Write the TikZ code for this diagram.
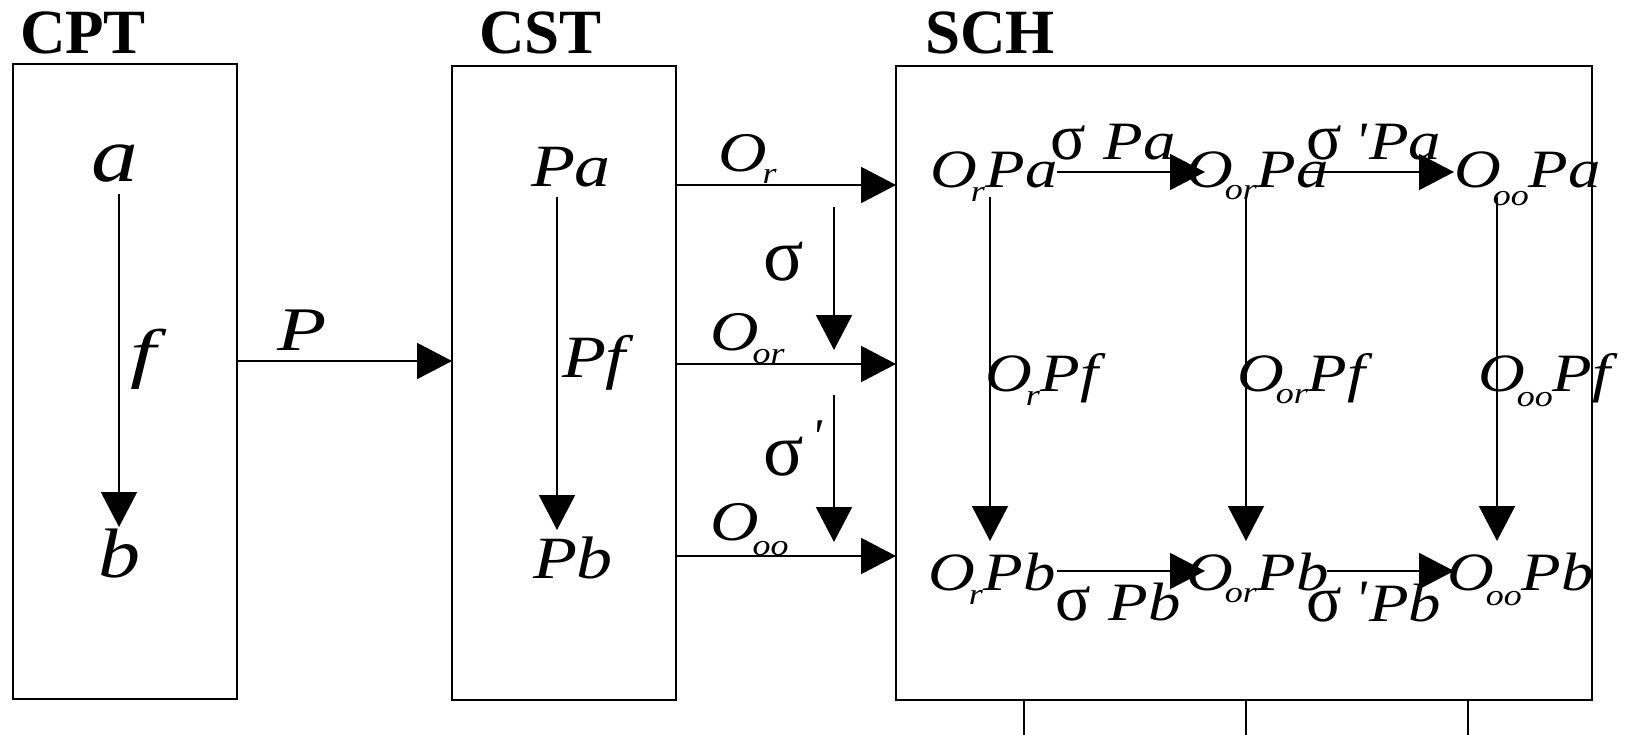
\documentclass[tikz,border=0pt]{standalone}
\usepackage{fontspec}
\setmainfont{Liberation Serif}[UprightFont={Liberation Serif}, ItalicFont={Liberation Serif Italic}, BoldFont={Liberation Serif Bold}]
\usepackage{graphicx}
\usetikzlibrary{arrows.meta}
\tikzset{
  box/.style={draw, line width=2pt, inner sep=0pt, outer sep=0pt},
  lbl/.style={inner sep=0pt, outer sep=0pt, anchor=base west},
  arr/.style={line width=2pt, -{Triangle[length=35pt,width=36pt]}},
  ttl/.style={inner sep=0pt, outer sep=0pt, anchor=base west, font=\fontsize{63}{63}\selectfont\bfseries},
  tick/.style={line width=2pt},
}
\newcommand\st[1]{\scalebox{1.2}[1]{#1}}
\newcommand\fs[1]{\fontsize{#1}{#1}\selectfont}
\newcommand\Osub[3]{\st{O}\kern#2pt\raisebox{-#1pt}{\fs{30}\st{#3}}}
\newcommand\sig[1]{{\fs{#1}\upshape σ}}
\newcommand\prm{\textquotesingle}
\begin{document}
\begin{tikzpicture}[x=1pt,y=-1pt]
\useasboundingbox (0,0) rectangle (1630,735);
% boxes
\node[box, minimum width=224.5pt, minimum height=634pt] (cpt) at (124.75,381.5) {};
\node[box, minimum width=224pt, minimum height=634pt] (cst) at (564,383) {};
\node[box, minimum width=696pt, minimum height=634pt] (sch) at (1244,383) {};
% titles
\node[ttl] (tcpt) at (20,54) {CPT};
\node[ttl] (tcst) at (479,54) {CST};
\node[ttl] (tsch) at (925,54) {SCH};
% CPT
\node[lbl] (la) at (91,182) {\fs{78}\itshape\st{a}};
\node[lbl] (lb) at (98,577) {\fs{70}\itshape\st{b}};
\node[lbl] (lf) at (130,375) {\fs{66}\itshape\scalebox{1.4}[1]{f}};
\coordinate (a1) at (119,194);
\coordinate (a2) at (119,527);
\draw[arr] (a1) -- (a2);
% P arrow
\node[lbl] (lP) at (277,350) {\fs{62}\itshape\scalebox{1.3}[1]{P}};
\draw[arr] (cpt.east |- 0,361) -- (cst.west |- 0,361);
% CST
\node[lbl] (lPa) at (531,187) {\fs{60}\itshape\st{Pa}};
\node[lbl] (lPf) at (562,377) {\fs{60}\itshape\st{Pf}};
\node[lbl] (lPb) at (533,578) {\fs{60}\itshape\st{Pb}};
\coordinate (c1) at (557,197);
\coordinate (c2) at (557,530);
\draw[arr] (c1) -- (c2);
% middle arrows
\draw[arr] (cst.east |- 0,185) -- (sch.west |- 0,185);
\draw[arr] (cst.east |- 0,364) -- (sch.west |- 0,364);
\draw[arr] (cst.east |- 0,556) -- (sch.west |- 0,556);
\node[lbl] (lOr) at (718,172) {\fs{56}\itshape\Osub{12}{-4}{r}};
\node[lbl] (lOor) at (710,350) {\fs{56}\itshape\Osub{13}{-6}{or}};
\node[lbl] (lOoo) at (710,540) {\fs{56}\itshape\Osub{15}{-6}{oo}};
\node[lbl] (ls1) at (763,280) {\sig{75}};
\node[lbl] (ls2) at (763,475) {\sig{75}\kern8pt\raisebox{22pt}{\fs{50}\itshape\prm}};
\coordinate (d1) at (834,207);
\coordinate (d2) at (834,350);
\coordinate (d3) at (834,395);
\coordinate (d4) at (834,542);
\draw[arr] (d1) -- (d2);
\draw[arr] (d3) -- (d4);
% SCH top row
\node[lbl] (n11) at (930,188) {\fs{54}\itshape\Osub{14}{-6}{r}\kern1pt\st{Pa}};
\node[lbl] (n12) at (1186,188) {\fs{54}\itshape\Osub{12}{-8}{or}\kern0pt\st{Pa}};
\node[lbl] (n13) at (1454,188) {\fs{54}\itshape\Osub{18}{-8}{oo}\kern0pt\st{Pa}};
\node[lbl] (s11) at (1050,160) {\sig{66}\kern18pt{\fs{54}\itshape\st{Pa}}};
\node[lbl] (s12) at (1306,160) {\sig{66}\kern14pt{\fs{54}\itshape\prm\kern2pt\st{Pa}}};
% SCH middle row
\node[lbl] (n21) at (985,391) {\fs{54}\itshape\Osub{14}{-6}{r}\kern1pt\st{Pf}};
\node[lbl] (n22) at (1237,391) {\fs{54}\itshape\Osub{12}{-8}{or}\kern0pt\st{Pf}};
\node[lbl] (n23) at (1478,391) {\fs{54}\itshape\Osub{15}{-8}{oo}\kern0pt\st{Pf}};
% SCH bottom row
\node[lbl] (n31) at (928,590) {\fs{54}\itshape\Osub{14}{-6}{r}\kern1pt\st{Pb}};
\node[lbl] (n32) at (1186,590) {\fs{54}\itshape\Osub{12}{-8}{or}\kern0pt\st{Pb}};
\node[lbl] (n33) at (1447,590) {\fs{54}\itshape\Osub{15}{-8}{oo}\kern0pt\st{Pb}};
\node[lbl] (s31) at (1055,620) {\sig{66}\kern18pt{\fs{54}\itshape\st{Pb}}};
\node[lbl] (s32) at (1306,621) {\sig{66}\kern14pt{\fs{54}\itshape\raisebox{4pt}{\prm}\kern2pt\st{Pb}}};
% SCH arrows
\coordinate (h1) at (1057,172);
\coordinate (h2) at (1205,172);
\coordinate (h3) at (1303,172);
\coordinate (h4) at (1454,172);
\coordinate (h5) at (1057,571);
\coordinate (h6) at (1205,571);
\coordinate (h7) at (1327,571);
\coordinate (h8) at (1454,571);
\draw[arr] (h1) -- (h2);
\draw[arr] (h3) -- (h4);
\draw[arr] (h5) -- (h6);
\draw[arr] (h7) -- (h8);
\coordinate (v1) at (990,197);
\coordinate (v2) at (990,541);
\coordinate (v3) at (1246,197);
\coordinate (v4) at (1246,541);
\coordinate (v5) at (1497,197);
\coordinate (v6) at (1497,541);
\draw[arr] (v1) -- (v2);
\draw[arr] (v3) -- (v4);
\draw[arr] (v5) -- (v6);
% ticks below SCH
\coordinate (t1) at (1023.5,735);
\coordinate (t2) at (1246,735);
\coordinate (t3) at (1467.5,735);
\draw[tick] (sch.south -| t1) -- (t1);
\draw[tick] (sch.south -| t2) -- (t2);
\draw[tick] (sch.south -| t3) -- (t3);
\end{tikzpicture}
\end{document}
